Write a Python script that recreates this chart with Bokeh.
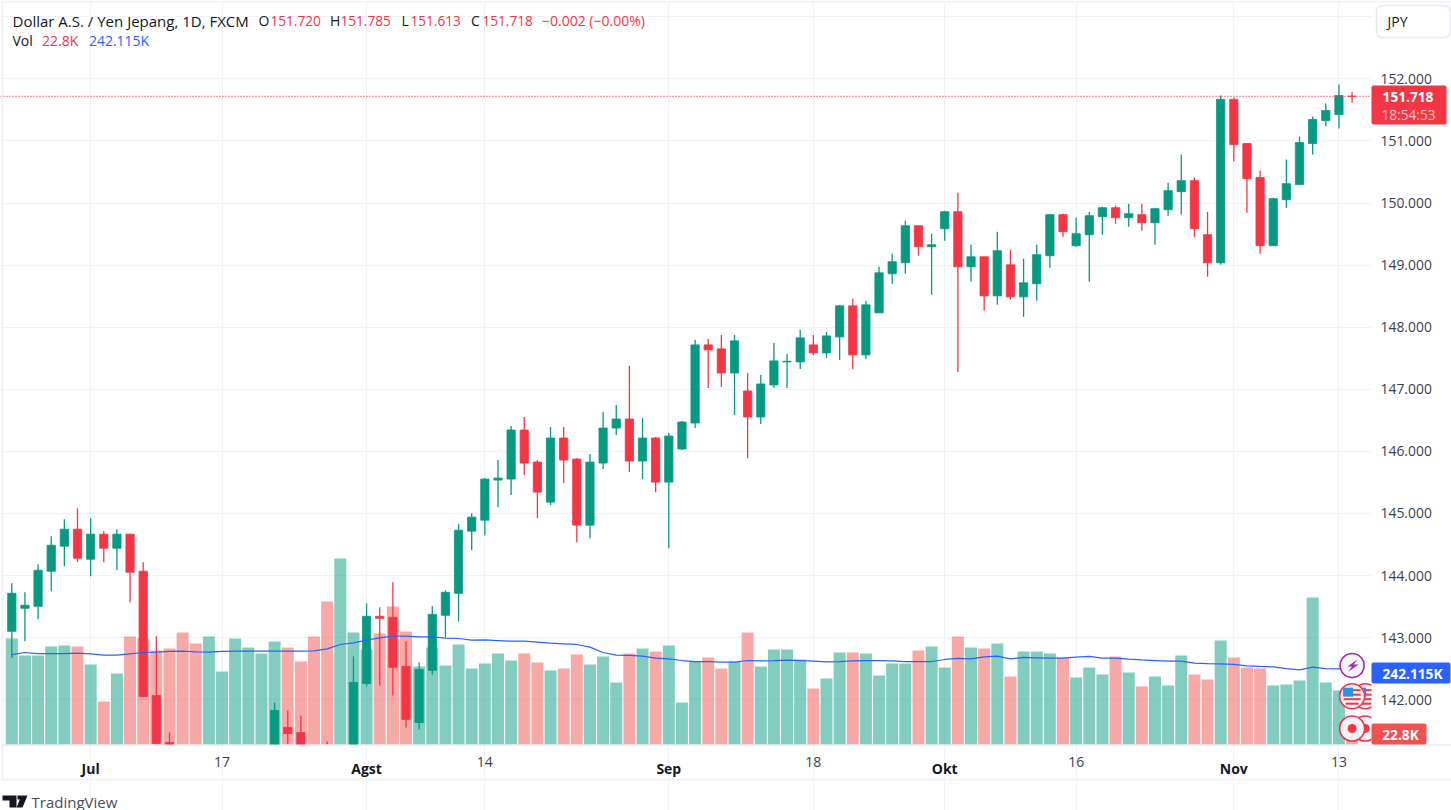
from bokeh.plotting import figure
from bokeh.embed import file_html
from bokeh.resources import INLINE
from bokeh.models import (Range1d, FixedTicker, NumeralTickFormatter, Label, BoxAnnotation,
                          PolyAnnotation)

open_ = [143.102,143.473,143.505,144.070,144.473,144.747,144.263,144.667,144.441,144.667,144.070,142.070,141.312,
 140.9,140.3,139.8,140.3,140.6,140.2,140.4,140.9,141.554,141.473,140.8,141.0,140.4,141.0,142.263,143.344,143.328,142.538,141.634,
 142.473,143.360,143.715,144.715,144.892,145.538,145.554,146.344,145.828,145.183,146.215,145.876,144.812,145.812,146.376,146.522,
 145.844,146.215,145.505,146.038,146.457,147.715,147.651,147.263,146.973,146.554,147.070,147.44,147.441,147.715,147.586,147.844,
 148.344,147.554,148.231,148.860,149.038,149.634,149.296,149.586,149.860,148.973,149.134,148.505,149.005,148.489,148.699,149.151,
 149.812,149.312,149.489,149.780,149.925,149.763,149.812,149.683,149.892,150.183,150.360,149.489,149.038,151.667,150.957,150.409,
 149.312,150.054,150.296,150.957,151.328,151.425,151.720]
high = [143.876,143.731,144.183,144.634,144.909,145.086,144.925,144.715,144.747,144.667,144.215,143.022,141.473,
 141.0,140.5,140.6,141.0,141.1,140.9,140.9,141.957,141.828,141.747,141.1,141.328,141.2,142.699,143.554,143.489,143.892,142.941,142.602,
 143.505,143.763,144.828,145.005,145.570,145.860,146.409,146.554,145.860,146.392,146.392,145.892,145.957,146.634,146.747,147.376,
 146.538,146.231,146.296,146.489,147.796,147.812,147.876,147.876,147.263,147.231,147.747,147.570,147.957,147.876,147.925,148.360,
 148.457,148.425,148.973,149.183,149.715,149.634,149.505,149.876,150.167,149.328,149.134,149.538,149.247,149.102,149.328,149.828,
 149.828,149.763,149.860,149.941,149.957,149.989,149.989,149.925,150.328,150.780,150.409,149.860,151.731,151.699,150.957,150.522,
 150.086,150.699,151.070,151.392,151.602,151.909,151.785]
low = [142.672,142.941,143.296,143.747,144.151,144.215,143.989,144.215,144.086,143.570,142.040,141.280,140.6,
 140.0,139.5,139.6,140.1,140.4,140.0,140.2,140.7,141.0,140.6,140.2,140.3,140.2,140.8,142.215,142.231,142.070,141.554,141.522,
 142.409,143.005,143.263,144.409,144.651,145.102,145.296,145.618,144.925,145.134,145.489,144.538,144.602,145.715,146.263,145.667,
 145.554,145.344,144.441,146.022,146.376,147.022,147.038,146.586,145.892,146.441,147.022,147.022,147.328,147.554,147.505,147.473,
 147.328,147.489,148.231,148.699,148.860,149.151,148.522,149.392,147.280,148.731,148.263,148.360,148.441,148.167,148.425,148.957,
 149.457,149.296,148.731,149.489,149.667,149.618,149.554,149.328,149.796,149.812,149.457,148.812,149.005,150.667,149.844,149.183,
 149.312,149.925,150.296,150.780,151.231,151.199,151.613]
close = [143.715,143.522,144.086,144.489,144.747,144.280,144.667,144.441,144.667,144.054,142.054,141.296,140.9,
 140.3,139.8,140.3,140.6,140.9,140.5,140.7,141.828,141.457,140.8,140.4,140.4,141.0,142.280,143.344,143.312,142.522,141.683,142.489,
 143.376,143.731,144.731,144.941,145.554,145.570,146.344,145.812,145.344,146.215,145.860,144.812,145.828,146.376,146.522,145.844,
 146.215,145.505,146.247,146.473,147.715,147.634,147.263,147.780,146.554,147.086,147.457,147.452,147.828,147.586,147.860,148.344,
 147.554,148.360,148.876,149.054,149.634,149.296,149.328,149.860,148.973,149.134,148.505,149.231,148.489,148.715,149.167,149.812,
 149.538,149.505,149.796,149.925,149.763,149.828,149.683,149.909,150.199,150.360,149.586,149.038,151.667,150.941,150.392,149.312,
 150.070,150.312,150.973,151.344,151.489,151.731,151.718]
volume_k = [337.7,283.6,283.6,312.2,315.4,312.2,254.9,137.0,226.2,344.1,337.7,299.5,305.9,356.8,321.8,344.1,232.6,337.7,309.0,289.9,
 328.2,309.0,264.4,344.1,455.6,592.6,356.8,302.7,353.6,439.7,360.0,248.5,309.0,251.7,318.6,242.1,258.0,289.9,267.6,289.9,261.3,235.8,
 242.1,286.7,254.9,280.4,197.5,289.9,305.9,296.3,315.4,133.8,264.4,277.2,242.1,264.4,356.8,248.5,302.7,302.7,270.8,178.4,210.3,293.1,
 293.1,289.9,219.8,258.0,258.0,299.5,312.2,245.3,344.1,309.0,305.9,321.8,216.6,296.3,296.3,289.9,277.2,213.5,245.3,223.0,280.4,229.4,
 184.8,216.6,188.0,283.6,223.0,207.1,331.3,277.2,245.3,242.1,188.0,191.2,203.9,468.3,197.5,172.0,22.8]
volume_ma_k = [286.7,293.1,289.9,289.9,289.9,291.0,288.9,284.6,284.6,288.9,293.1,294.2,296.3,297.4,295.2,294.2,296.3,297.4,297.4,297.4,
 297.4,297.4,297.4,298.4,304.8,318.6,323.9,332.4,339.8,345.2,345.2,343.0,343.0,338.8,337.7,332.4,333.5,331.3,329.2,329.2,326.0,322.8,
 320.7,318.6,310.1,293.1,284.6,283.6,281.4,275.0,272.9,267.6,264.4,264.4,262.3,262.3,267.6,266.6,267.6,268.7,267.6,265.5,263.4,264.4,
 266.6,267.6,267.6,266.6,264.4,264.4,264.4,270.8,274.0,272.9,279.3,281.4,272.9,277.2,276.1,275.0,275.0,278.2,280.4,275.0,275.0,271.9,
 269.7,267.6,265.5,265.5,259.1,258.0,257.0,254.9,250.6,248.5,247.4,242.1,237.9,246.4,242.1,241.0,242.115]
month_ticks = [6, 27, 50, 71, 93]
month_labels = ["Jul", "Agst", "Sep", "Okt", "Nov"]
day_ticks = [16, 36, 61, 81, 101]
day_labels = ["17", "14", "18", "16", "13"]
price_ticks = [142, 143, 144, 145, 146, 147, 148, 149, 150, 151, 152]

UP, DOWN = "#089981", "#f23645"
FONT = "Open Sans"
W, H = 1451, 810

# the plot frame is the whole canvas; the pane ends at 141.28 and at bar 103.48
PANE_BOTTOM = 141.28
PANE_RIGHT = 103.48
idx = list(range(len(close)))
up = [c >= o for o, c in zip(open_, close)]
colors = [UP if u else DOWN for u in up]
vol_colors = ["#089981" if u else "#ef5350" for u in up]

p = figure(width=W, height=H, output_backend="svg", toolbar_location=None, y_axis_location="right",
           x_range=Range1d(-0.860, 109.566), y_range=Range1d(140.217, 153.261),
           min_border=0, background_fill_color="white", border_fill_color="white")
p.outline_line_color = None
p.extra_y_ranges = {"vol": Range1d(-210.3, 2370.4)}

ax = p.xaxis[0]
ax.fixed_location = PANE_BOTTOM
ax.ticker = FixedTicker(ticks=month_ticks)
ax.major_label_overrides = dict(zip(month_ticks, month_labels))
ax.major_tick_line_color = None; ax.minor_tick_line_color = None; ax.axis_line_color = None
ax.major_label_text_font = FONT; ax.major_label_text_font_size = "14px"
ax.major_label_text_font_style = "bold"; ax.major_label_text_color = "#131722"
ax.major_label_standoff = 9

ay = p.yaxis[0]
ay.fixed_location = PANE_RIGHT
ay.ticker = FixedTicker(ticks=price_ticks)
ay.formatter = NumeralTickFormatter(format="0.000")
ay.major_tick_line_color = None; ay.minor_tick_line_color = None; ay.axis_line_color = None
ay.major_label_text_font = FONT; ay.major_label_text_font_size = "13.9px"
ay.major_label_text_color = "#3c4049"; ay.major_label_standoff = 3

p.xgrid[0].ticker = FixedTicker(ticks=sorted(month_ticks + day_ticks))
p.ygrid[0].ticker = FixedTicker(ticks=price_ticks + [153])
p.xgrid[0].bounds = (PANE_BOTTOM, 153.261)
p.ygrid[0].bounds = (-0.860, PANE_RIGHT)
p.xgrid[0].grid_line_color = "#f1f2f5"; p.ygrid[0].grid_line_color = "#f1f2f5"

p.vbar(x=idx, top=volume_k, bottom=0, width=0.913, fill_color=vol_colors, fill_alpha=0.5,
       line_color=None, y_range_name="vol")
# candles are cut at the bottom of the pane
clip = lambda v: max(v, PANE_BOTTOM)
p.segment(x0=idx, x1=idx, y0=[clip(v) for v in low], y1=[clip(v) for v in high], color=colors, line_width=1.3)
shown = [i for i in idx if max(open_[i], close[i]) > PANE_BOTTOM]
p.vbar(x=shown, top=[clip(max(open_[i], close[i])) for i in shown],
       bottom=[clip(min(open_[i], close[i])) for i in shown], width=0.63,
       fill_color=[colors[i] for i in shown], line_color=[colors[i] for i in shown], line_width=0.8)
p.line(x=idx, y=volume_ma_k, color="#2962ff", line_width=1.25, y_range_name="vol")
p.line(x=[-0.860, PANE_RIGHT], y=[close[-1], close[-1]], line_color=DOWN, line_dash="1 2", line_width=1.3)

# page pixel -> data, for decorative event icons only
px = lambda X: (X - 11.3) / 13.14
py = lambda Y: 142 - (Y - 699.3) / 62.1
for ix, iy in [(1364.7, 695.7), (1364.7, 728), (1351.6, 695.7), (1351.6, 728)]:
    p.scatter(x=[px(ix)], y=[py(iy)], size=25, marker="circle", fill_color="#f0f3fa",
              line_color=DOWN, line_width=1.6)
    if iy < 700:
        for d in (-6, -1.5, 3, 7.5):
            p.rect(x=[px(ix)], y=[py(iy + d)], width=17 if abs(d) < 7 else 13, height=2,
                   width_units="screen", height_units="screen", fill_color=DOWN, line_color=None)
        p.rect(x=[px(ix - 4)], y=[py(iy - 4)], width=10, height=9, width_units="screen",
               height_units="screen", fill_color="#2e8fe8", line_color=None)
    else:
        p.scatter(x=[px(ix)], y=[py(iy)], size=9, marker="circle", fill_color=DOWN, line_color=None)
p.scatter(x=[px(1351.6)], y=[py(665)], size=24, marker="circle", fill_color="#f0f3fa",
          line_color="#9c27b0", line_width=1.6)
bx, by = [1357, 1347, 1351.5, 1348, 1358, 1353, 1357], [659, 666, 666, 671, 664, 664, 659]
p.patch(x=[px(v) for v in bx], y=[py(v) for v in by], fill_color="#9c27b0", line_color=None)

def box(l, r, t, b, color, radius=0, line=None, level="annotation"):
    p.add_layout(BoxAnnotation(left=l, right=r, top=H - t, bottom=H - b,
                 left_units="screen", right_units="screen", top_units="screen", bottom_units="screen",
                 fill_color=color, fill_alpha=1, line_color=line, line_alpha=1, line_width=1.5,
                 border_radius=radius, level=level))

def txt(s, X, Y, color="#131722", size="14px", bold=False, align="left"):
    p.add_layout(Label(x=X, y=H - Y, x_units="screen", y_units="screen", text=s, text_color=color,
                 text_font=FONT, text_font_size=size, text_font_style="bold" if bold else "normal",
                 text_align=align, text_baseline="middle"))

# white price-scale strip hides what the pane would cut off; drawn below the axis labels
box(1371, W, 0, 744, "white", level="glyph")
box(0, W, 744, 745, "#e0e3eb")
box(0, W, 778, 780, "#f0f3fa")
box(1, 3, 0, 779, "#f0f3fa")
box(0, W, 0, 2, "#f0f3fa")

for t, s in zip(day_ticks, day_labels):
    p.add_layout(Label(x=t, y=H - 761, y_units="screen", text=s, text_color="#3c4049", text_font=FONT,
                 text_font_size="14px", text_align="center", text_baseline="middle"))

# header
txt("Dollar A.S. / Yen Jepang, 1D, FXCM", 12, 20, size="15px")
for s, x in [("O", 258), ("H", 329.5), ("L", 401), ("C", 470.5)]:
    txt(s, x, 20)
for s, x in [("151.720", 270), ("151.785", 340), ("151.613", 410), ("151.718", 482)]:
    txt(s, x, 20, DOWN, "13.6px")
txt("−0.002 (−0.00%)", 541.5, 20, DOWN)
txt("Vol", 12, 40)
txt("22.8K", 41.5, 40, "#f23645")
txt("242.115K", 88.4, 40, "#2962ff")

# JPY button
box(1376, 1450, 5, 37, "white", radius=6, line="#e8eaf0")
txt("JPY", 1387, 21)

# price tags
box(1371, 1446, 85, 124, DOWN, radius=2)
txt("151.718", 1407.5, 96, "white", "13.7px", True, "center")
txt("18:54:53", 1408, 114, "#fbc2c7", "13.7px", False, "center")
box(1371, 1450, 662, 683, "#2962ff", radius=2)
txt("242.115K", 1412, 673, "white", "13.7px", True, "center")
box(1371, 1426, 723, 744, "#ef5350", radius=2)
txt("22.8K", 1400, 734, "white", "13.7px", True, "center")

# footer
txt("TradingView", 31, 801, "#4a4e59", "15px")
for xs, ys in [([2, 16, 16, 9, 9, 2], [795, 795, 807, 807, 800, 800]),
               ([17, 21, 21, 17], [795, 795, 799, 799]),
               ([21, 27, 22, 16], [795, 795, 807, 807])]:
    p.add_layout(PolyAnnotation(xs=xs, ys=[H - v for v in ys], xs_units="screen", ys_units="screen",
                 fill_color="#131722", fill_alpha=1, line_color=None))

open("out.html", "w").write(file_html(p, INLINE))
